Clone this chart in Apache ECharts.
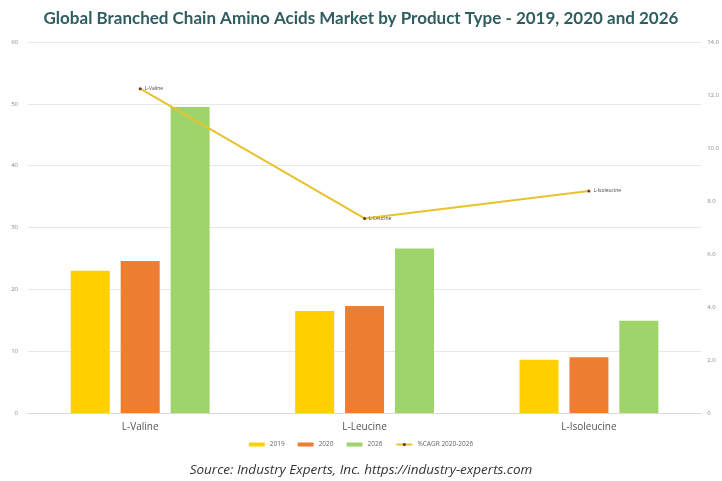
<!DOCTYPE html>
<html><head><meta charset="utf-8">
<script src="https://cdn.jsdelivr.net/npm/echarts@6/dist/echarts.min.js"></script>
<style>html,body{margin:0;padding:0;background:#fff}#c{width:722px;height:481px}</style>
</head><body><div id="c"></div>
<script>
const categories = ['L-Valine', 'L-Leucine', 'L-Isoleucine'];
const values2019 = [23.0, 16.5, 8.6];
const values2020 = [24.6, 17.3, 9.0];
const values2026 = [49.5, 26.6, 14.9];
const cagr = [12.24, 7.34, 8.38];
const leftTicks = [0, 10, 20, 30, 40, 50, 60];
const rightTicks = [0, 2, 4, 6, 8, 10, 12, 14];
const seriesNames = ['2019', '2020', '2026', '%CAGR 2020-2026'];

const chart = echarts.init(document.getElementById('c'), null, {renderer: 'canvas'});
const axisLabelStyle = {color: '#8a8a8a', fontSize: 6, fontFamily: 'Open Sans'};
chart.setOption({
  animation: false,
  backgroundColor: '#fff',
  title: [{
    text: 'Global Branched Chain Amino Acids Market by Product Type - 2019, 2020 and 2026',
    left: 'center', top: 5,
    textStyle: {color: '#2f5d60', fontSize: 17, fontWeight: 'bold', fontFamily: 'Lato'}
  }, {
    text: 'Source: Industry Experts, Inc. https://industry-experts.com',
    left: 'center', top: 458,
    textStyle: {color: '#333', fontSize: 13.5, fontStyle: 'italic', fontWeight: 'normal', fontFamily: 'Open Sans'}
  }],
  legend: {
    data: seriesNames, bottom: 28, left: 'center', itemWidth: 16, itemHeight: 4, itemGap: 13,
    textStyle: {fontSize: 6.5, color: '#666', fontFamily: 'Open Sans'}
  },
  grid: {left: 28, right: 20, top: 42, bottom: 68},
  xAxis: {
    type: 'category', data: categories,
    axisLine: {lineStyle: {color: '#d9d9d9'}}, axisTick: {show: false},
    axisLabel: {color: '#555', fontSize: 10, fontFamily: 'Open Sans', margin: 9}
  },
  yAxis: [{
    type: 'value', min: leftTicks[0], max: leftTicks[leftTicks.length - 1], interval: 10,
    axisLine: {show: false}, axisTick: {show: false},
    splitLine: {lineStyle: {color: '#e8e8e8'}},
    axisLabel: Object.assign({margin: 10}, axisLabelStyle)
  }, {
    type: 'value', min: rightTicks[0], max: rightTicks[rightTicks.length - 1], interval: 2,
    axisLine: {show: false}, axisTick: {show: false}, splitLine: {show: false},
    axisLabel: Object.assign({margin: 6, formatter: v => v === 0 ? '0' : v.toFixed(1)}, axisLabelStyle)
  }],
  series: [
    {name: seriesNames[0], type: 'bar', data: values2019, barWidth: 39, barGap: '28%', itemStyle: {color: '#ffd000'}},
    {name: seriesNames[1], type: 'bar', data: values2020, barWidth: 39, barGap: '28%', itemStyle: {color: '#ed7d31'}},
    {name: seriesNames[2], type: 'bar', data: values2026, barWidth: 39, barGap: '28%', itemStyle: {color: '#9fd46a'}},
    {name: seriesNames[3], type: 'line', yAxisIndex: 1, data: cagr,
      symbol: 'circle', symbolSize: 3,
      lineStyle: {color: '#e8c22e', width: 2},
      itemStyle: {color: '#6b3a1a'},
      label: {show: true, position: 'right', distance: 3, fontSize: 5, color: '#444', fontFamily: 'Open Sans',
        formatter: p => categories[p.dataIndex]}
    }
  ]
});
</script></body></html>
